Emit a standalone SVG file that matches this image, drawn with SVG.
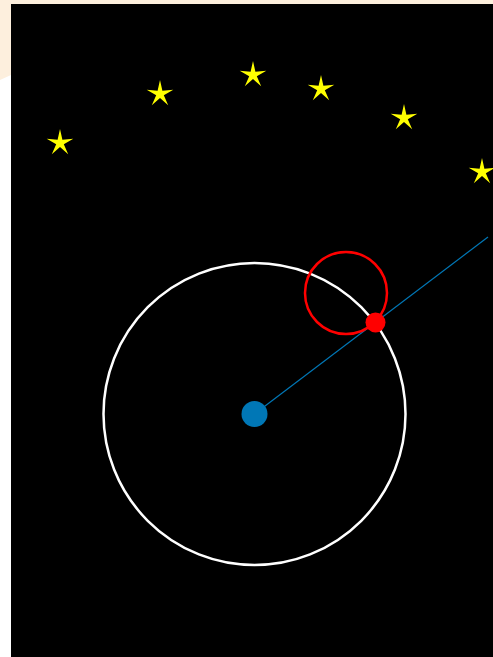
<svg xmlns="http://www.w3.org/2000/svg" width="493" height="657" viewBox="0 0 493 657">
<defs>
<style>
.star{fill:#ffff00}
</style>
<polygon id="st" points="0,-14 2.4,-3.2 13.3,-4.3 3.8,1.2 8.2,11.3 0,4 -8.2,11.3 -3.8,1.2 -13.3,-4.3 -2.4,-3.2"/>
</defs>
<rect width="493" height="657" fill="#ffffff"/>
<polygon points="0,0 493,0 493,4 11,4 11,75 0,80" fill="#fdefdd"/>
<rect x="11" y="4" width="482" height="653" fill="#000000"/>
<g id="stars">
<use href="#st" class="star" x="60" y="143"/>
<use href="#st" class="star" x="160" y="94"/>
<use href="#st" class="star" x="253" y="75"/>
<use href="#st" class="star" x="321" y="89"/>
<use href="#st" class="star" x="404" y="118"/>
<use href="#st" class="star" x="482" y="172"/>
</g>
<g id="orbit"><circle cx="254.5" cy="414" r="151" fill="none" stroke="#ffffff" stroke-width="2.5"/></g>
<g id="connectors"><line x1="254.5" y1="414" x2="488" y2="237" stroke="#0077b6" stroke-width="1.2"/></g>
<g id="center"><circle cx="254.5" cy="414" r="13" fill="#0077b6"/></g>
<g id="red-ring"><circle cx="346" cy="293" r="41" fill="none" stroke="#ff0000" stroke-width="2.5"/></g>
<g id="red-dot"><circle cx="375.5" cy="322.5" r="10" fill="#ff0000"/></g>
</svg>
